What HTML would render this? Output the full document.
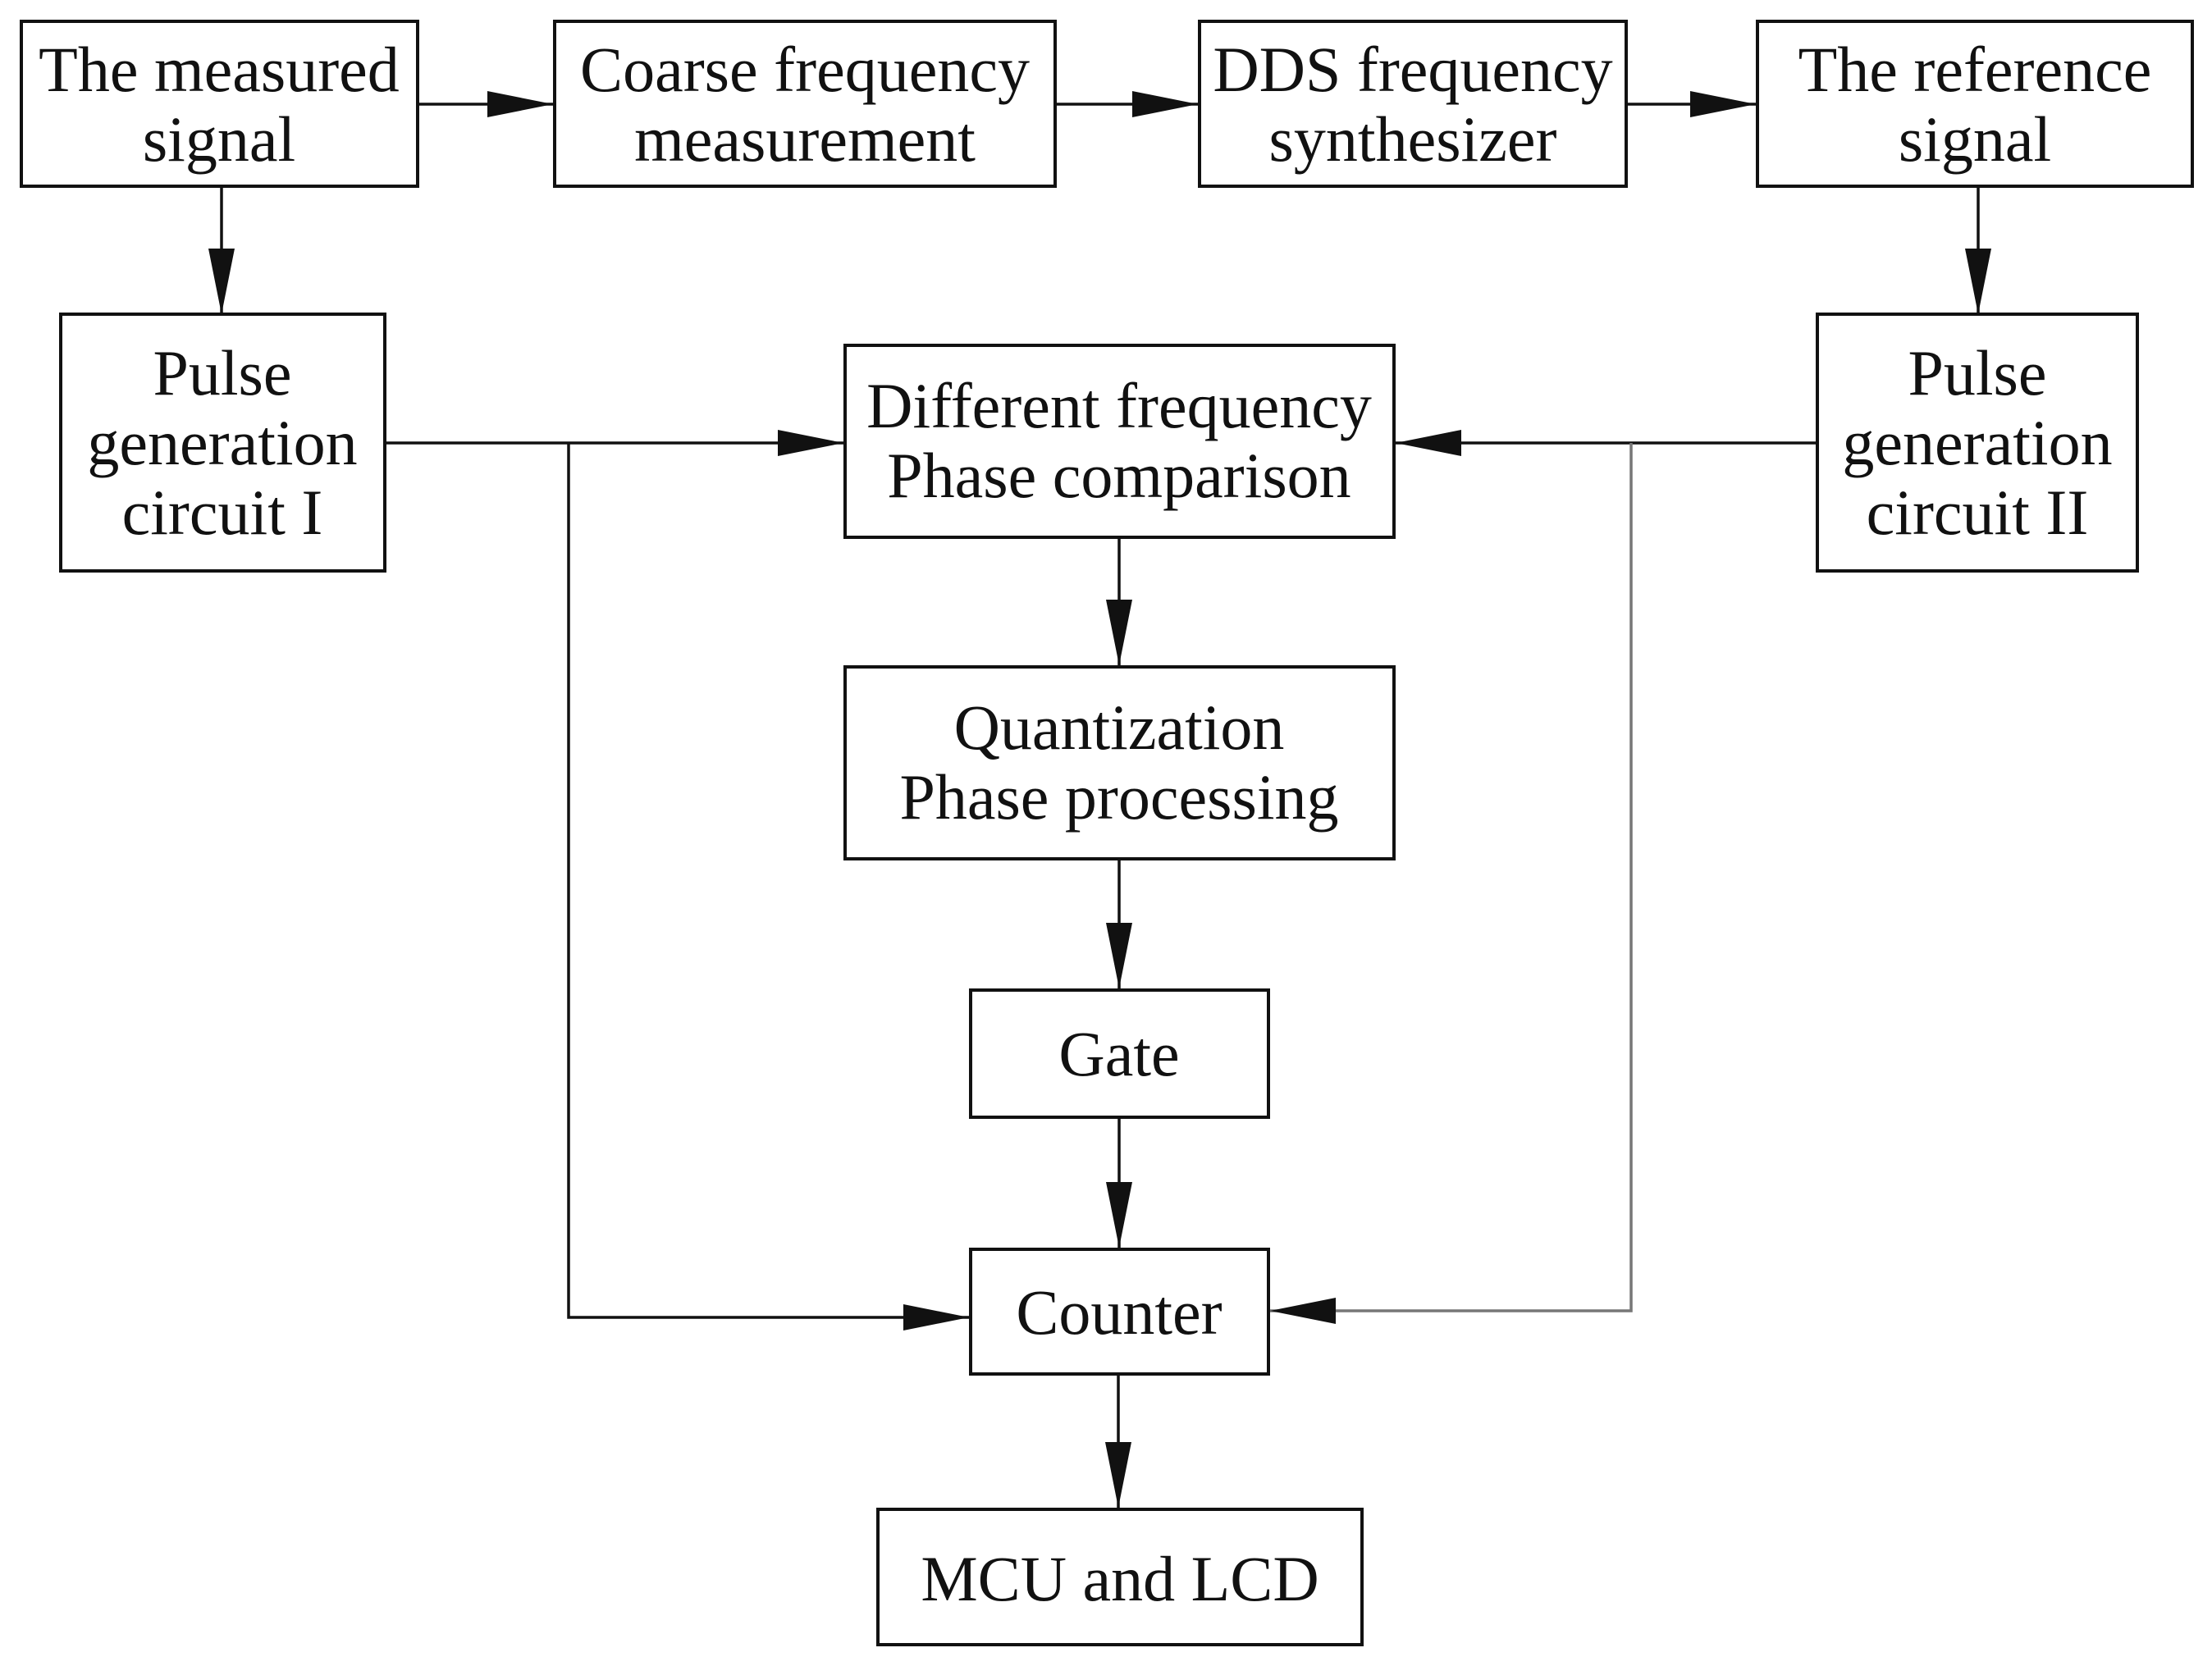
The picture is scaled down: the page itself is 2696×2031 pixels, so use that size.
<!DOCTYPE html>
<html><head><style>
body{margin:0;background:#fff}
svg{display:block}
text{font-family:"Liberation Serif",serif;font-size:78px;fill:#111;text-anchor:middle}
rect{fill:#fff;stroke:#111;stroke-width:4}
line,polyline{stroke:#111;stroke-width:3.5;fill:none}
</style></head><body>
<svg width="2696" height="2031" viewBox="0 0 2696 2031">
<defs><marker id="a" markerWidth="80" markerHeight="32" refX="80" refY="16" orient="auto" markerUnits="userSpaceOnUse"><path d="M0,0 L80,16 L0,32 Z" fill="#111"/></marker></defs>
<rect x="26" y="26" width="483" height="201"/>
<text x="267" y="111">The measured</text><text x="267" y="196">signal</text>
<rect x="676" y="26" width="610" height="201"/>
<text x="981" y="111">Coarse frequency</text><text x="981" y="196">measurement</text>
<rect x="1462" y="26" width="520" height="201"/>
<text x="1722" y="111">DDS frequency</text><text x="1722" y="196">synthesizer</text>
<rect x="2142" y="26" width="530" height="201"/>
<text x="2407" y="111">The reference</text><text x="2407" y="196">signal</text>
<rect x="74" y="383" width="395" height="313"/>
<text x="271" y="481">Pulse</text><text x="271" y="566">generation</text><text x="271" y="651">circuit I</text>
<rect x="2215" y="383" width="390" height="313"/>
<text x="2410" y="481">Pulse</text><text x="2410" y="566">generation</text><text x="2410" y="651">circuit II</text>
<rect x="1030" y="421" width="669" height="234"/>
<text x="1364" y="521">Different frequency</text><text x="1364" y="606">Phase comparison</text>
<rect x="1030" y="813" width="669" height="234"/>
<text x="1364" y="913">Quantization</text><text x="1364" y="998">Phase processing</text>
<rect x="1183" y="1207" width="363" height="155"/>
<text x="1364" y="1311">Gate</text>
<rect x="1183" y="1523" width="363" height="152"/>
<text x="1364" y="1626">Counter</text>
<rect x="1070" y="1840" width="590" height="165"/>
<text x="1365" y="1951">MCU and LCD</text>
<line x1="509" y1="127" x2="674" y2="127" marker-end="url(#a)"/>
<line x1="1286" y1="127" x2="1460" y2="127" marker-end="url(#a)"/>
<line x1="1982" y1="127" x2="2140" y2="127" marker-end="url(#a)"/>
<line x1="270" y1="227" x2="270" y2="383" marker-end="url(#a)"/>
<line x1="2411" y1="227" x2="2411" y2="383" marker-end="url(#a)"/>
<line x1="469" y1="540" x2="1028" y2="540" marker-end="url(#a)"/>
<polyline points="693,540 693,1606 1181,1606" marker-end="url(#a)"/>
<line x1="2215" y1="540" x2="1701" y2="540" marker-end="url(#a)"/>
<polyline points="1988,540 1988,1598 1548,1598" style="stroke:#777" marker-end="url(#a)"/>
<line x1="1364" y1="655" x2="1364" y2="811" marker-end="url(#a)"/>
<line x1="1364" y1="1047" x2="1364" y2="1205" marker-end="url(#a)"/>
<line x1="1364" y1="1362" x2="1364" y2="1521" marker-end="url(#a)"/>
<line x1="1363" y1="1675" x2="1363" y2="1838" marker-end="url(#a)"/>
</svg>
</body></html>
